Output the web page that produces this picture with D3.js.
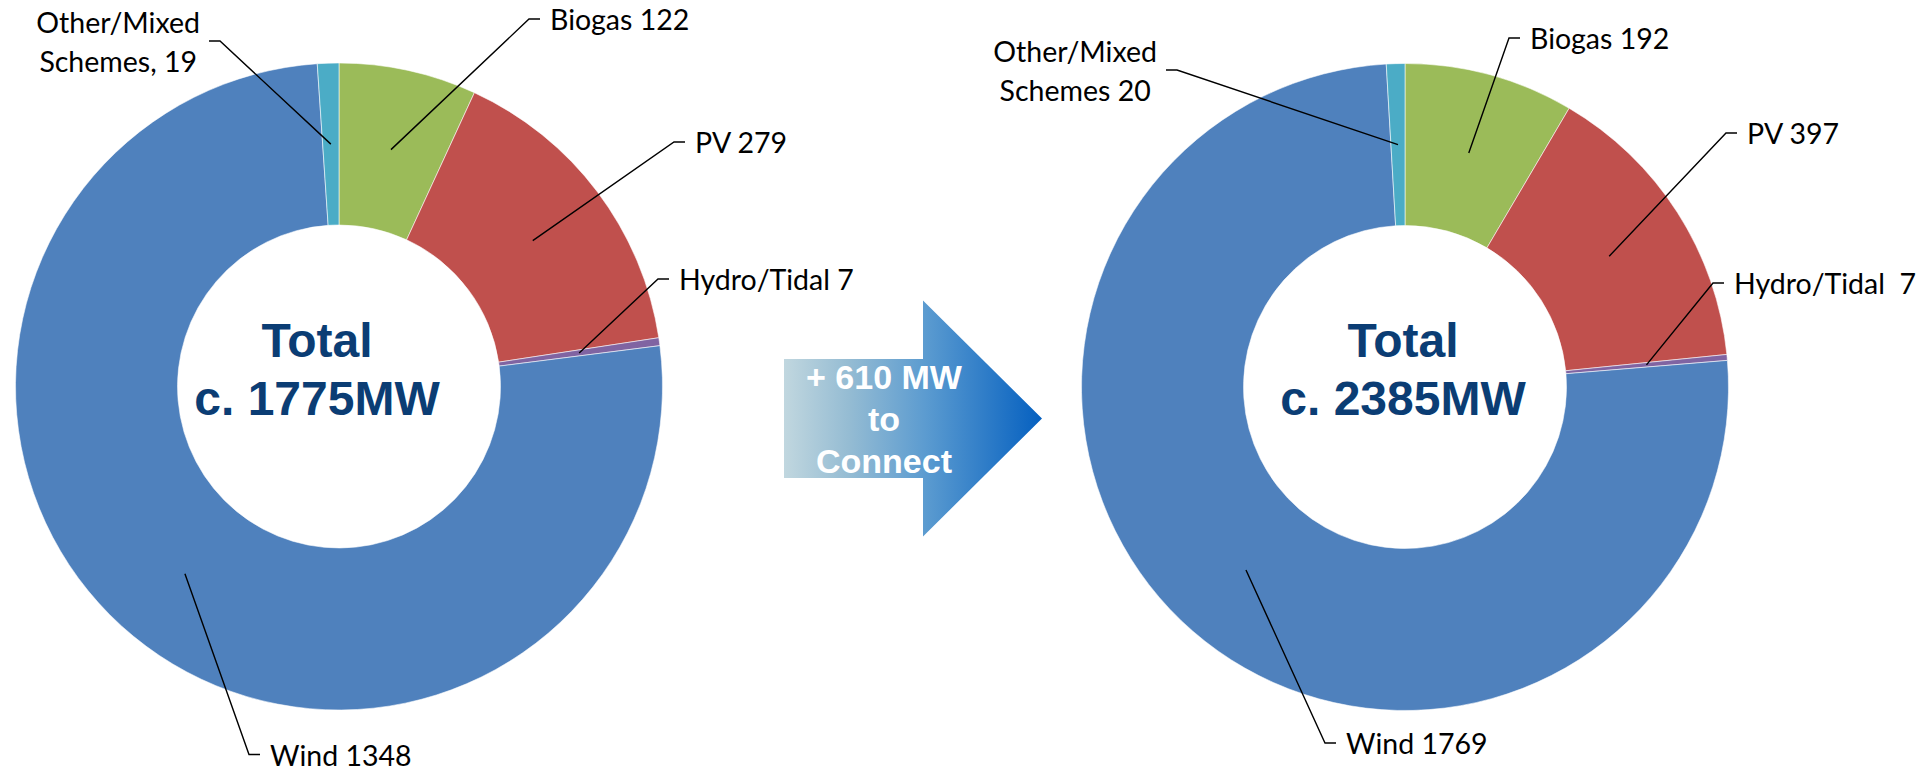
<!DOCTYPE html>
<html>
<head>
<meta charset="utf-8">
<script src="https://cdn.jsdelivr.net/npm/d3@7"></script>
<style>
  html,body{margin:0;padding:0;background:#fff;}
  svg{display:block;}
  .lbl{font-family:Lato,"Open Sans",sans-serif;font-size:28.5px;fill:#000;white-space:pre;}
  .total{font-family:"Liberation Sans",Arial,sans-serif;font-weight:700;font-size:48px;fill:#0b3d74;}
  .arrow-txt{font-family:"Liberation Sans",Arial,sans-serif;font-weight:700;font-size:34px;fill:#fff;}
  .leader{stroke:#000;stroke-width:1.4;fill:none;}
</style>
</head>
<body>
<div id="chart"></div>
<script>
// ── data ───────────────────────────────────────
const SOURCES = ["Biogas", "PV", "Hydro/Tidal", "Wind", "Other/Mixed Schemes"];
const SRC_COLORS = ["#9bbb59", "#c0504d", "#8064a2", "#4f81bd", "#4bacc6"];

// connected today (MW)
const CONNECTED_MW = [122, 279, 7, 1348, 19];
const CONNECTED_LABELS = [["Biogas 122"], ["PV 279"], ["Hydro/Tidal 7"], ["Wind 1348"], ["Other/Mixed", "Schemes, 19"]];
const CONNECTED_TOTAL = ["Total", "c. 1775MW"];

// connected + pipeline: slice sizes as drawn (the printed labels don't quite match the slices)
const FUTURE_SLICES = [202, 356, 7, 1798, 22];
const FUTURE_LABELS = [["Biogas 192"], ["PV 397"], ["Hydro/Tidal  7"], ["Wind 1769"], ["Other/Mixed", "Schemes 20"]];
const FUTURE_TOTAL = ["Total", "c. 2385MW"];

const ARROW_TEXT = ["+ 610 MW", "to", "Connect"];

// ── layout ─────────────────────────────────────
const W = 1931, H = 773;
const R_OUT = 323.5, R_IN = 161.5;
const TICK = 11, GAP = 10;

// elbow of each leader line, relative to the donut centre
const CHARTS = [
  { cx: 339, cy: 386.5, textDx: -22, values: CONNECTED_MW, labels: CONNECTED_LABELS, total: CONNECTED_TOTAL,
    elbows: [[190, -367.5], [335, -244.5], [319, -107.5], [-90, 368], [-119, -345.5]] },
  { cx: 1405, cy: 387, textDx: -2, values: FUTURE_SLICES, labels: FUTURE_LABELS, total: FUTURE_TOTAL,
    elbows: [[104, -349], [321, -254], [308, -104], [-80, 356], [-228, -317]] }
];

const svg = d3.select("#chart").append("svg")
  .attr("width", W).attr("height", H).attr("viewBox", `0 0 ${W} ${H}`);
svg.append("rect").attr("width", W).attr("height", H).attr("fill", "#fff");

const pie = d3.pie().sort(null).value(d => d);
const arc = d3.arc().innerRadius(R_IN).outerRadius(R_OUT);

CHARTS.forEach(ch => {
  const g = svg.append("g").attr("transform", `translate(${ch.cx},${ch.cy})`);
  const arcs = pie(ch.values);

  g.selectAll("path.slice").data(arcs).join("path")
    .attr("class", "slice")
    .attr("d", arc)
    .attr("fill", (d, i) => SRC_COLORS[i])
    .attr("stroke", "rgba(255,255,255,0.7)")
    .attr("stroke-width", 0.8);

  // centre text
  ch.total.forEach((t, i) => {
    g.append("text").attr("class", "total")
      .attr("x", ch.textDx).attr("y", -30 + i * 58)
      .attr("text-anchor", "middle").text(t);
  });

  // leader lines + labels
  arcs.forEach((a, i) => {
    const [sx, sy] = arc.centroid(a);
    const [ex, ey] = ch.elbows[i];
    const lines = ch.labels[i];
    const leftSide = ex < 0 && lines.length > 1;
    const dir = leftSide ? -1 : 1;

    g.append("path").attr("class", "leader")
      .attr("d", `M${sx},${sy}L${ex},${ey}L${ex + dir * TICK},${ey}`);

    const txt = g.append("text").attr("class", "lbl");
    if (lines.length === 1) {
      txt.attr("x", ex + TICK + GAP).attr("y", ey + 11).text(lines[0]);
    } else {
      const ts = lines.map((l, k) => txt.append("tspan").attr("y", ey - 8 + k * 39).text(l));
      const maxW = d3.max(ts, t => t.node().getComputedTextLength());
      const mid = leftSide ? ex - TICK - GAP + 1 - maxW / 2 : ex + TICK + GAP + maxW / 2;
      ts.forEach(t => t.attr("x", mid).attr("text-anchor", "middle"));
    }
  });
});

// ── arrow between the two donuts ───────────────
const ARROW = { x0: 784, xHead: 923, xTip: 1042, cy: 418.5, bodyH: 119, headH: 236 };
const defs = svg.append("defs");
const grad = defs.append("linearGradient").attr("id", "arrowGrad")
  .attr("x1", "0%").attr("x2", "100%").attr("y1", "0%").attr("y2", "0%");
[["0%", "#c1d7df"], ["25%", "#95bcd3"], ["55%", "#5b9bd0"], ["100%", "#0560c0"]].forEach(([o, c]) =>
  grad.append("stop").attr("offset", o).attr("stop-color", c));

const A = ARROW, bh = A.bodyH / 2, hh = A.headH / 2;
const arrowPts = [
  [A.x0, A.cy - bh], [A.xHead, A.cy - bh], [A.xHead, A.cy - hh], [A.xTip, A.cy],
  [A.xHead, A.cy + hh], [A.xHead, A.cy + bh], [A.x0, A.cy + bh]
];
svg.append("path").attr("d", d3.line()(arrowPts) + "Z").attr("fill", "url(#arrowGrad)");

ARROW_TEXT.forEach((t, i) => {
  svg.append("text").attr("class", "arrow-txt")
    .attr("x", 884).attr("y", 389 + i * 42)
    .attr("text-anchor", "middle").text(t);
});
</script>
</body>
</html>
